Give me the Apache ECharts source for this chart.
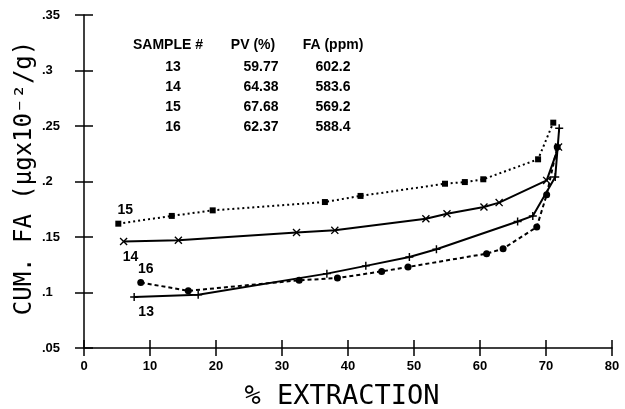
<!DOCTYPE html>
<html>
<head>
<meta charset="utf-8">
<script src="https://cdn.jsdelivr.net/npm/echarts@6/dist/echarts.min.js"></script>
<style>html,body{margin:0;padding:0;background:#fff;}#c{width:625px;height:409px;}</style>
</head>
<body>
<div id="c"></div>
<script>
// ---- data ----
const xTickLabels = ['0','10','20','30','40','50','60','70','80'];
const yTickLabels = ['.05','.1','.15','.2','.25','.3','.35'];

const s15x = [5.2, 13.3, 19.5, 36.5, 41.9, 54.7, 57.7, 60.5, 68.8, 71.1];
const s15y = [0.162, 0.169, 0.174, 0.1815, 0.187, 0.198, 0.1995, 0.202, 0.220, 0.253];

const s14x = [6.0, 14.3, 32.2, 38.0, 51.8, 55.0, 60.6, 62.9, 70.1, 71.9];
const s14y = [0.146, 0.147, 0.154, 0.156, 0.1665, 0.171, 0.177, 0.181, 0.201, 0.231];

const s13x = [7.6, 17.3, 36.8, 42.7, 49.3, 53.4, 65.7, 68.0, 71.4, 72.0];
const s13y = [0.096, 0.098, 0.117, 0.124, 0.132, 0.139, 0.164, 0.169, 0.204, 0.248];

const s16x = [8.6, 15.8, 32.6, 38.4, 45.1, 49.1, 61.0, 63.5, 68.6, 70.1, 71.7];
const s16y = [0.109, 0.1015, 0.111, 0.113, 0.119, 0.123, 0.135, 0.1395, 0.159, 0.188, 0.231];

const tableHeader = ['SAMPLE #', 'PV (%)', 'FA (ppm)'];
const samples = ['13', '14', '15', '16'];
const pvValues = ['59.77', '64.38', '67.68', '62.37'];
const faValues = ['602.2', '583.6', '569.2', '588.4'];

const xTitle = '% EXTRACTION';
const yTitle = 'CUM. FA (\u03BCgx10\u207B\u00B2/g)';

// ---- chart ----
const chart = echarts.init(document.getElementById('c'), null, {renderer: 'canvas'});
const labelFont = {fontFamily: 'Liberation Sans', fontSize: 14, fontWeight: 'bold', color: '#000'};

function pairs(xs, ys, name, pos, dist, off) {
  return xs.map((x, i) => {
    const d = {value: [x, ys[i]]};
    if (i === 0) d.label = Object.assign({show: true, formatter: name, position: pos, distance: dist, offset: off}, labelFont);
    return d;
  });
}

const crossPath = 'path://M0,1.2L1.2,0L5,3.8L8.8,0L10,1.2L6.2,5L10,8.8L8.8,10L5,6.2L1.2,10L0,8.8L3.8,5Z';
const plusPath = 'path://M4.1,0H5.9V4.1H10V5.9H5.9V10H4.1V5.9H0V4.1H4.1Z';

const axisLineStyle = {color: '#000', width: 1.5};
const tickFont = {color: '#000', fontFamily: 'Liberation Sans', fontSize: 13, fontWeight: 'bold'};

const graphics = [];
graphics.push({type: 'text', x: 342, y: 397, style: {text: xTitle, font: '27px "DejaVu Sans Mono"', fill: '#000', align: 'center', verticalAlign: 'middle'}});
graphics.push({type: 'text', x: 25, y: 178, rotation: Math.PI / 2, style: {text: yTitle, font: '24px "DejaVu Sans Mono"', fill: '#000', align: 'center', verticalAlign: 'middle'}});
const colX = [168, 253, 333];
const headFont = 'bold 14px "Liberation Sans"';
tableHeader.forEach((t, j) => {
  graphics.push({type: 'text', x: colX[j], y: 45, style: {text: t, font: headFont, fill: '#000', align: 'center', verticalAlign: 'middle'}});
});
samples.forEach((s, i) => {
  const y = 67 + i * 20;
  graphics.push({type: 'text', x: 173, y: y, style: {text: s, font: headFont, fill: '#000', align: 'center', verticalAlign: 'middle'}});
  graphics.push({type: 'text', x: 261, y: y, style: {text: pvValues[i], font: headFont, fill: '#000', align: 'center', verticalAlign: 'middle'}});
  graphics.push({type: 'text', x: 333, y: y, style: {text: faValues[i], font: headFont, fill: '#000', align: 'center', verticalAlign: 'middle'}});
});

const option = {
  backgroundColor: '#fff',
  animation: false,
  grid: {left: 84, right: 13, top: 15, bottom: 61, containLabel: false},
  xAxis: [
    {type: 'value', min: 0, max: 80, interval: 10,
     axisLine: {lineStyle: axisLineStyle}, axisTick: {length: 8, lineStyle: axisLineStyle},
     splitLine: {show: false},
     axisLabel: Object.assign({margin: 12, formatter: (v, i) => xTickLabels[i]}, tickFont)},
    {type: 'value', min: 0, max: 80, interval: 10, position: 'bottom',
     axisLine: {show: false}, axisTick: {inside: true, length: 8, lineStyle: axisLineStyle},
     splitLine: {show: false}, axisLabel: {show: false}}
  ],
  yAxis: [
    {type: 'value', min: 0.05, max: 0.35, interval: 0.05,
     axisLine: {lineStyle: axisLineStyle}, axisTick: {length: 9, lineStyle: axisLineStyle},
     splitLine: {show: false},
     axisLabel: Object.assign({margin: 42, align: 'left', formatter: (v, i) => yTickLabels[i]}, tickFont)},
    {type: 'value', min: 0.05, max: 0.35, interval: 0.05, position: 'left',
     axisLine: {show: false}, axisTick: {inside: true, length: 9, lineStyle: axisLineStyle},
     splitLine: {show: false}, axisLabel: {show: false}}
  ],
  graphic: graphics,
  series: [
    {name: '15', type: 'line', data: pairs(s15x, s15y, '15', 'top', 4, [7, 0]),
     symbol: 'rect', symbolSize: 6, itemStyle: {color: '#000'},
     lineStyle: {color: '#000', width: 2, type: [2, 3]}},
    {name: '14', type: 'line', data: pairs(s14x, s14y, '14', 'bottom', 5, [7, 0]),
     symbol: crossPath, symbolSize: 8, itemStyle: {color: '#000'},
     lineStyle: {color: '#000', width: 2, type: 'solid'}},
    {name: '13', type: 'line', data: pairs(s13x, s13y, '13', 'bottom', 4, [12, 0]),
     symbol: plusPath, symbolSize: 8, itemStyle: {color: '#000'},
     lineStyle: {color: '#000', width: 2, type: 'solid'}},
    {name: '16', type: 'line', data: pairs(s16x, s16y, '16', 'top', 3, [5, 0]),
     symbol: 'circle', symbolSize: 7, itemStyle: {color: '#000'},
     lineStyle: {color: '#000', width: 2, type: [4, 3]}}
  ]
};
chart.setOption(option);
</script>
</body>
</html>
